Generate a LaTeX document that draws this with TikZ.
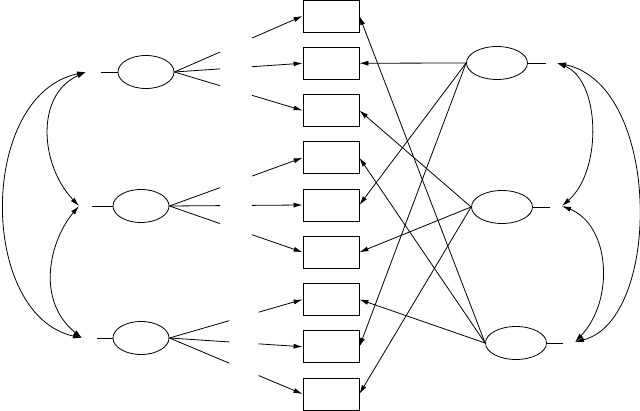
\documentclass[tikz,border=0pt]{standalone}
\usepackage{tikz}
\usetikzlibrary{arrows.meta,shapes.geometric,calc}

\begin{document}
\begin{tikzpicture}[
  x=1pt, y=-1pt,
  line width=0.8pt,
  >={Latex[length=9pt,width=5pt]},
  obs/.style={draw, rectangle, minimum width=56pt, minimum height=32pt, inner sep=0pt},
  trait/.style={draw, ellipse, minimum width=56pt, minimum height=33pt, inner sep=0pt},
  meth/.style={trait, minimum width=61pt},
  arr/.style={->},
  cov/.style={<->}
]
  \useasboundingbox (0,0) rectangle (640,411);

  % Observed measures
  \node[obs] (y1) at (331,16) {};
  \node[obs] (y2) at (331,63.25) {};
  \node[obs] (y3) at (331,110.5) {};
  \node[obs] (y4) at (331,157.75) {};
  \node[obs] (y5) at (331,205) {};
  \node[obs] (y6) at (331,252.25) {};
  \node[obs] (y7) at (331,299.5) {};
  \node[obs] (y8) at (331,346.75) {};
  \node[obs] (y9) at (331,394) {};

  % Trait factors (left) and method factors (right)
  \node[trait] (t1) at (146,72) {};
  \node[trait] (t2) at (141,206) {};
  \node[trait] (t3) at (141,338) {};
  \node[meth] (m1) at (497,63) {};
  \node[meth] (m2) at (502,207) {};
  \node[meth] (m3) at (516,343) {};

  % Variance stubs
  \draw (t1.west) -- ++(-17,0);
  \draw (t2.west) -- ++(-21,0);
  \draw (t3.west) -- ++(-16,0);
  \draw (m1.east) -- ++(18,0);
  \draw (m2.east) -- ++(17,0);
  \draw (m3.east) -- ++(16,0);

  % Trait loadings (broken lines)
  \foreach \i in {1,2,3} {
    \draw (t1.east) -- ($(t1.east)!0.357!(y\i.west)$);
    \draw[arr] ($(t1.east)!0.605!(y\i.west)$) -- (y\i.west);
  }
  \foreach \i in {4,5,6} {
    \draw (t2.east) -- ($(t2.east)!0.38!(y\i.west)$);
    \draw[arr] ($(t2.east)!0.62!(y\i.west)$) -- (y\i.west);
  }
  \foreach \i in {7,8,9} {
    \draw (t3.east) -- ($(t3.east)!0.45!(y\i.west)$);
    \draw[arr] ($(t3.east)!0.67!(y\i.west)$) -- (y\i.west);
  }

  % Method loadings
  \foreach \i in {2,5,8} \draw[arr] (m1.west) -- (y\i.east);
  \foreach \i in {3,6,9} \draw[arr] (m2.west) -- (y\i.east);
  \foreach \i in {1,4,7} \draw[arr] (m3.west) -- (y\i.east);

  % Covariances
  \coordinate (v1) at (86,72);
  \coordinate (v2) at (79,206);
  \coordinate (v3) at (82,338);
  \coordinate (w1) at (557,63);
  \coordinate (w2) at (562,206);
  \coordinate (w3) at (575,342);
  \draw[cov] (v1) .. controls (-22,95) and (-22,315) .. (v3);
  \draw[cov] (v1) .. controls (35,95) and (40,165) .. (v2);
  \draw[cov] (v2) .. controls (50,240) and (35,300) .. (v3);
  \draw[cov] (w1) .. controls (662,85) and (662,320) .. (w3);
  \draw[cov] (w1) .. controls (600,80) and (603,170) .. (w2);
  \draw[cov] (w2) .. controls (610,225) and (615,300) .. (w3);
\end{tikzpicture}
\end{document}
